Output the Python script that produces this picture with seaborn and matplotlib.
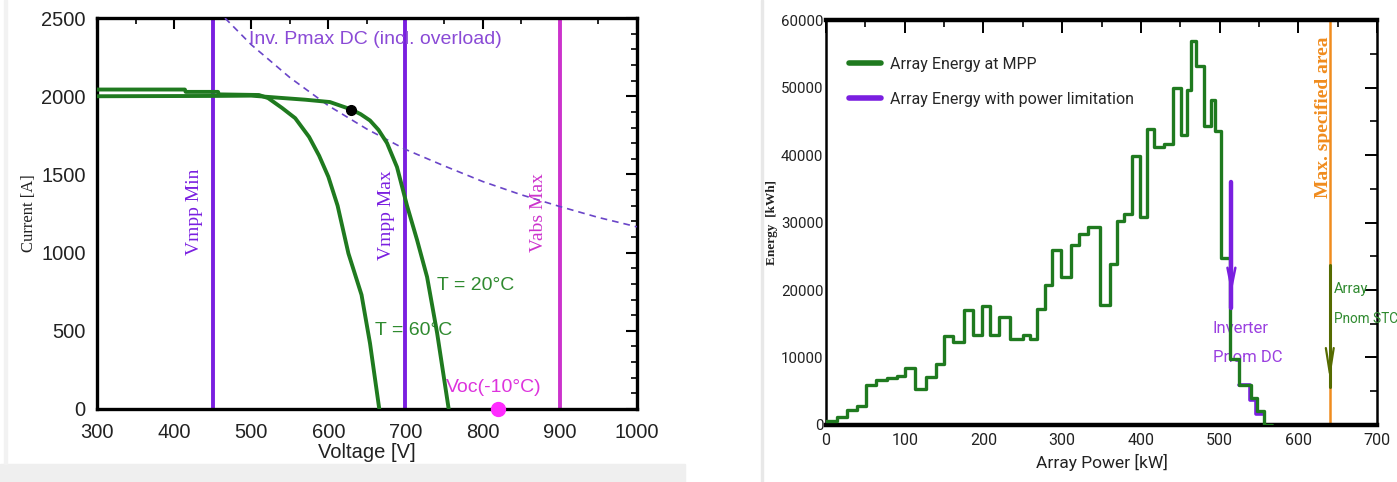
import numpy as np
import pandas as pd
import matplotlib
matplotlib.use("Agg")
import matplotlib.pyplot as plt
from matplotlib import font_manager as fm
from matplotlib.ticker import MultipleLocator
from matplotlib.lines import Line2D
import seaborn as sns

# ---------------- data: left chart (I-V curves) ----------------
v_t60 = [300, 414, 415, 457, 458, 510, 522, 540, 557, 575, 588, 600, 612, 626, 643, 654, 666]
i_t60 = [2043, 2043, 2028, 2028, 2012, 2008, 1988, 1925, 1860, 1740, 1620, 1485, 1300, 995, 730, 420, 0]
v_t20 = [300, 450, 500, 537, 570, 602, 630, 642, 654, 665, 676, 689, 702, 715, 728, 741, 756]
i_t20 = [2000, 2002, 2004, 1990, 1978, 1963, 1915, 1885, 1845, 1785, 1701, 1547, 1300, 1081, 844, 486, 0]
v_pmax = [466, 500, 550, 600, 650, 700, 750, 800, 850, 900, 950, 1000]
i_pmax = [2500, 2330, 2120, 1940, 1790, 1660, 1555, 1455, 1370, 1295, 1225, 1165]
mpp_point = (630, 1915)
voc_point = (820, 0)
v_limits = [450, 700, 900]
v_limit_labels = ["Vmpp Min", "Vmpp Max", "Vabs Max"]

# ---------------- data: right chart (energy histogram) ----------------
power_edges = [0, 14, 26, 39, 51, 64, 77, 90, 100, 113, 127, 140, 150, 161, 175, 187, 198, 208,
               220, 234, 250, 259, 268, 278, 287, 299, 311, 322, 333, 348, 361, 370, 379, 389,
               399, 408, 417, 429, 441, 451, 459, 464, 470, 480, 489, 494, 502, 513, 525, 540,
               547, 557, 567]
energy_mpp = [600, 1250, 2150, 2750, 5950, 6600, 6900, 7250, 8500, 5300, 7100, 9100, 13200, 12300,
              17000, 13300, 17600, 13300, 16000, 12800, 13400, 12800, 17200, 20700, 25900, 21900,
              26700, 28300, 29400, 17800, 23800, 30300, 31200, 39800, 30800, 43800, 41200, 41600,
              50000, 43000, 49600, 56900, 53200, 44300, 48200, 43500, 24800, 9800, 5900, 4000,
              2100, 0]
limit_edges = [525, 539, 546, 556]
energy_limit = [5900, 3700, 1700]
inverter_pnom_dc = 515
inverter_arrow = (36000, 17300)
array_pnom_stc = 640
array_arrow = (23700, 5700)

GREEN = "#1f7a1f"
PURPLE = "#7a1fe0"
MAGENTA = "#cc33cc"
ORANGE = "#f08c1e"

sns.set_theme(style="white")
names = {f.name for f in fm.fontManager.ttflist}
NARROW = "Roboto" if "Roboto" in names else "DejaVu Sans"
SANS = "Liberation Sans" if "Liberation Sans" in names else "DejaVu Sans"
SERIF = "Liberation Serif" if "Liberation Serif" in names else "DejaVu Serif"
plt.rcParams["font.family"] = [SANS, "DejaVu Sans"]

fig = plt.figure(figsize=(13.97, 4.82), dpi=100)
fig.patch.set_facecolor("white")
fig.patches.append(plt.Rectangle((0, 0), 0.49, 0.038, transform=fig.transFigure,
                                 color="#efefef", zorder=0))
fig.patches.append(plt.Rectangle((0.003, 0.038), 0.002, 0.962, transform=fig.transFigure,
                                 color="#f2f2f2", zorder=0))
fig.patches.append(plt.Rectangle((0.5445, 0.0), 0.0015, 1.0, transform=fig.transFigure,
                                 color="#e8e8e8", zorder=0))

ax1 = fig.add_axes([0.0694, 0.1515, 0.3865, 0.811])
ax2 = fig.add_axes([0.5913, 0.1183, 0.3944, 0.840])

# ================= LEFT =================
for v, lab in zip(v_limits, v_limit_labels):
    col = MAGENTA if lab.startswith("Vabs") else PURPLE
    ax1.axvline(v, color=col, lw=2.8, zorder=2)

sns.lineplot(x=v_pmax, y=i_pmax, ax=ax1, color="#6a45c8", lw=1.2, sort=False,
             estimator=None, zorder=3)
ax1.lines[-1].set_dashes((4, 3))
sns.lineplot(x=v_t60, y=i_t60, ax=ax1, color=GREEN, lw=2.8, sort=False, estimator=None, zorder=4)
sns.lineplot(x=v_t20, y=i_t20, ax=ax1, color=GREEN, lw=2.8, sort=False, estimator=None, zorder=4)
ax1.plot([mpp_point[0]], [mpp_point[1]], "o", color="black", ms=7, zorder=6)
ax1.plot([voc_point[0]], [voc_point[1]], "o", color="#ff2bff", ms=10, zorder=6, clip_on=False)

lab_pos = {"Vmpp Min": (427, 1260), "Vmpp Max": (676, 1240), "Vabs Max": (873, 1253)}
for lab in v_limit_labels:
    col = MAGENTA if lab.startswith("Vabs") else PURPLE
    x, y = lab_pos[lab]
    ax1.text(x, y, lab, rotation=90, ha="center", va="center", color=col,
             fontsize=14, family=SERIF)

ax1.text(497, 2365, "Inv. Pmax DC (incl. overload)", color="#8a4ad6", fontsize=14,
         ha="left", va="center")
ax1.text(741, 790, "T = 20°C", color="#2f8a2f", fontsize=14, ha="left", va="center")
ax1.text(661, 505, "T = 60°C", color="#2f8a2f", fontsize=14, ha="left", va="center")
ax1.text(753, 135, "Voc(-10°C)", color="#dd33dd", fontsize=14, ha="left", va="center")

ax1.set_xlim(300, 1000)
ax1.set_ylim(0, 2500)
ax1.xaxis.set_major_locator(MultipleLocator(100))
ax1.xaxis.set_minor_locator(MultipleLocator(50))
ax1.yaxis.set_major_locator(MultipleLocator(500))
ax1.yaxis.set_minor_locator(MultipleLocator(100))
ax1.tick_params(which="both", direction="in", top=True, right=True, colors="black",
                labelcolor="#222222", labelsize=14.5)
ax1.tick_params(which="major", length=8, width=1.5)
ax1.tick_params(which="minor", length=4, width=1.2)
ax1.tick_params(axis="x", which="major", pad=10)
ax1.tick_params(axis="y", which="major", pad=8)
for s in ax1.spines.values():
    s.set_linewidth(2.4)
    s.set_color("black")
ax1.set_xlabel("Voltage [V]", fontsize=14.5, color="#222222", labelpad=1)
ax1.set_ylabel("Current [A]", fontsize=12, family=SERIF, color="#222222", labelpad=3)
ax1.set_facecolor("white")

# ================= RIGHT =================
ax2.axvline(array_pnom_stc, color=ORANGE, lw=1.8, zorder=2)

sns.lineplot(x=limit_edges, y=energy_limit + [energy_limit[-1]], ax=ax2, color=PURPLE, lw=2.6,
             drawstyle="steps-post", estimator=None, zorder=3)
sns.lineplot(x=power_edges, y=energy_mpp + [energy_mpp[-1]], ax=ax2, color=GREEN, lw=2.4,
             drawstyle="steps-post", estimator=None, zorder=4)

# Inverter Pnom DC arrow (purple)
ax2.plot([inverter_pnom_dc, inverter_pnom_dc], list(inverter_arrow), color=PURPLE, lw=3.2, zorder=5)
ax2.plot([inverter_pnom_dc - 5, inverter_pnom_dc, inverter_pnom_dc + 5],
         [23300, 20400, 23300], color=PURPLE, lw=1.8, zorder=5)
# Array Pnom STC arrow (olive)
ax2.plot([array_pnom_stc, array_pnom_stc], list(array_arrow), color="#556b00", lw=2.2, zorder=5)
ax2.plot([array_pnom_stc - 5, array_pnom_stc, array_pnom_stc + 5],
         [11400, 7700, 11400], color="#556b00", lw=1.6, zorder=5)

tkw = dict(family=NARROW, fontsize=12, ha="left", va="center")
ax2.text(491, 14300, "Inverter", color="#9b40e0", **tkw)
ax2.text(491, 10000, "Pnom DC", color="#9b40e0", **tkw)
ax2.text(645, 20200, "Array", color="#2f8a2f", family=NARROW, fontsize=10.5,
         ha="left", va="center")
ax2.text(645, 15700, "Pnom STC", color="#2f8a2f", family=NARROW, fontsize=9.8,
         ha="left", va="center")
ax2.text(631.5, 57500, "Max. specified area", color=ORANGE, fontsize=14, family=SERIF,
         fontweight="bold", rotation=90, ha="center", va="top")

handles = [Line2D([], [], color=GREEN, lw=4), Line2D([], [], color=PURPLE, lw=4)]
leg = ax2.legend(handles, ["Array Energy at MPP", "Array Energy with power limitation"],
                 loc="upper left", bbox_to_anchor=(0.015, 0.945), frameon=False,
                 prop={"family": NARROW, "size": 11.5},
                 handlelength=2.0, labelspacing=1.25, handletextpad=0.6)

ax2.set_xlim(0, 700)
ax2.set_ylim(0, 60000)
ax2.xaxis.set_major_locator(MultipleLocator(100))
ax2.xaxis.set_minor_locator(MultipleLocator(50))
ax2.yaxis.set_major_locator(MultipleLocator(10000))
ax2.yaxis.set_minor_locator(MultipleLocator(5000))
ax2.tick_params(which="both", direction="in", top=True, right=True, colors="black",
                labelcolor="#222222")
ax2.tick_params(axis="x", labelsize=11.5)
ax2.tick_params(axis="y", labelsize=10.8)
ax2.tick_params(which="major", length=9, width=1.4)
ax2.tick_params(which="minor", length=5, width=1.2)
ax2.tick_params(axis="x", which="major", pad=6)
ax2.tick_params(axis="y", which="major", pad=2)
for lab in ax2.get_xticklabels() + ax2.get_yticklabels():
    lab.set_family(NARROW)
for side, s in ax2.spines.items():
    s.set_color("black")
    s.set_linewidth(3.2 if side in ("top", "bottom") else 1.8)
ax2.set_xlabel("Array Power [kW]", fontsize=12.5, family=NARROW, color="#222222", labelpad=4)
ax2.set_ylabel("Energy  [kWh]", fontsize=9.5, family=SERIF, fontweight="bold",
               color="#222222", labelpad=2)
ax2.set_facecolor("white")

fig.savefig("out.png", dpi=100, facecolor="white")
